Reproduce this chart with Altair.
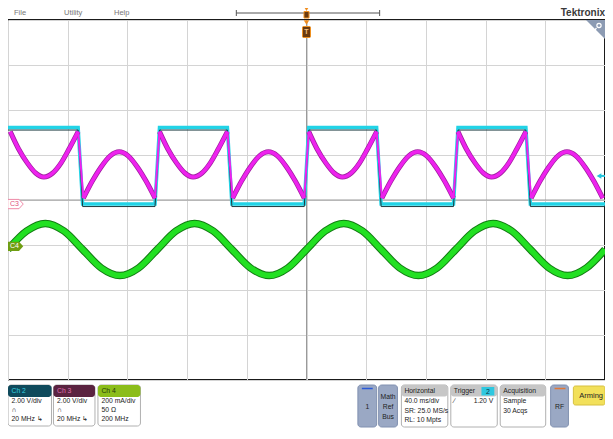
import altair as alt
import pandas as pd

# ---------------- data (time in ms, amplitude in screen divisions) ----------------
cyan_t = [-200, -153, -150, -101.5, -98.5, -53, -50, -1.5, 1.5, 47, 50, 98.5, 101.5, 147, 150, 200]
cyan_v = [1.61, 1.61, -0.09, -0.09, 1.61, 1.61, -0.09, -0.09, 1.61, 1.61, -0.09, -0.09, 1.61, 1.61, -0.09, -0.09]

mag_t = [-198.5, -193, -187, -181.5, -176, -170, -164.5, -159, -153,
         -149.5, -143.5, -137.5, -131.5, -125.5, -119.5, -113.5, -107.5, -101.5,
         -98.5, -93, -87, -81.5, -76, -70, -64.5, -59, -53,
         -49.5, -43.5, -37.5, -31.5, -25.5, -19.5, -13.5, -7.5, -1.5,
         1.5, 7, 13, 18.5, 24, 30, 35.5, 41, 47,
         50.5, 56.5, 62.5, 68.5, 74.5, 80.5, 86.5, 92.5, 98.5,
         101.5, 107, 113, 118.5, 124, 130, 135.5, 141, 147,
         150.5, 156.5, 162.5, 168.5, 174.5, 180.5, 186.5, 192.5, 198.5]
mag_v = [1.52, 1.14, 0.82, 0.60, 0.51, 0.60, 0.82, 1.14, 1.52,
         0.04, 0.42, 0.74, 0.98, 1.07, 0.98, 0.74, 0.42, 0.04,
         1.52, 1.14, 0.82, 0.60, 0.51, 0.60, 0.82, 1.14, 1.52,
         0.04, 0.42, 0.74, 0.98, 1.07, 0.98, 0.74, 0.42, 0.04,
         1.52, 1.14, 0.82, 0.60, 0.51, 0.60, 0.82, 1.14, 1.52,
         0.04, 0.42, 0.74, 0.98, 1.07, 0.98, 0.74, 0.42, 0.04,
         1.52, 1.14, 0.82, 0.60, 0.51, 0.60, 0.82, 1.14, 1.52,
         0.04, 0.42, 0.74, 0.98, 1.07, 0.98, 0.74, 0.42, 0.04]
MAG_SEG_LEN = 9  # samples per half-cycle

green_t = [-200, -187.5, -175, -162.5, -150, -137.5, -125, -112.5, -100, -87.5, -75, -62.5,
           -50, -37.5, -25, -12.5, 0, 12.5, 25, 37.5, 50, 62.5, 75, 87.5, 100, 112.5,
           125, 137.5, 150, 162.5, 175, 187.5, 200]
green_v = [-1.10, -0.69, -0.52, -0.69, -1.10, -1.51, -1.68, -1.51, -1.10, -0.69, -0.52, -0.69,
           -1.10, -1.51, -1.68, -1.51, -1.10, -0.69, -0.52, -0.69, -1.10, -1.51, -1.68, -1.51,
           -1.10, -0.69, -0.52, -0.69, -1.10, -1.51, -1.68, -1.51, -1.10]

ch3_offset = [-0.09]      # C3 ground marker (div)
ch4_offset = [-1.03]      # C4 ground marker (div)
trig_level = [0.535]      # trigger level marker on Ch2 (div)
grid_t = list(range(-200, 201, 40))
grid_v = list(range(-4, 5))

# ---------------- layout helpers (chrome only) ----------------
W, H = 597, 360
FONT = "Liberation Sans Narrow, Liberation Sans, Arial"
FS = 6.8


def fx(X):
    return (X - 5) * W / 604


def fp(Y):
    return Y - 28


one = pd.DataFrame({"k": [0]})


def box(x1, x2, y1, y2, fill, stroke=None, sw=1, r=0):
    kw = dict(fill=fill, cornerRadius=r)
    if stroke:
        kw.update(stroke=stroke, strokeWidth=sw)
    return alt.Chart(one).mark_rect(**kw).encode(
        x=alt.value(x1), x2=alt.value(x2), y=alt.value(y1), y2=alt.value(y2))


def hline(x1, x2, y, color, sw=1):
    return alt.Chart(one).mark_rule(color=color, strokeWidth=sw).encode(
        x=alt.value(x1), x2=alt.value(x2), y=alt.value(y))


def vline(x, y1, y2, color, sw=1):
    return alt.Chart(one).mark_rule(color=color, strokeWidth=sw).encode(
        x=alt.value(x), y=alt.value(y1), y2=alt.value(y2))


def txt(x, y, s, size=FS, color="#222", align="left", weight="normal"):
    return alt.Chart(one).mark_text(text=s, fontSize=size, color=color, align=align,
                                    baseline="middle", fontWeight=weight, font=FONT).encode(
        x=alt.value(x), y=alt.value(y))


def sym(x, y, shape, size, fill, stroke=None, sw=1):
    kw = dict(shape=shape, size=size, filled=True, fill=fill, opacity=1)
    if stroke:
        kw.update(stroke=stroke, strokeWidth=sw)
    return alt.Chart(one).mark_point(**kw).encode(x=alt.value(x), y=alt.value(y))


# ---------------- scales ----------------
xs = alt.Scale(domain=[-200, 200], nice=False, zero=False)
ys = alt.Scale(domain=[-4, 4], nice=False, zero=False)
XE = alt.X("t:Q", scale=xs, axis=alt.Axis(values=grid_t, grid=True, labels=False, ticks=False,
                                           domain=False, title=None))
YE = alt.Y("v:Q", scale=ys, axis=alt.Axis(values=grid_v, grid=True, labels=False, ticks=False,
                                           domain=False, title=None))

cyan = pd.DataFrame({"t": cyan_t, "v": cyan_v})
mag = pd.DataFrame({"t": mag_t, "v": mag_v})
mag["seg"] = [i // MAG_SEG_LEN for i in range(len(mag))]
# transition edges: last sample of one half-cycle to first sample of the next
edge_rows = []
nseg = mag["seg"].max() + 1
for s in range(nseg - 1):
    a = mag[mag.seg == s].iloc[-1]
    b = mag[mag.seg == s + 1].iloc[0]
    edge_rows += [{"t": a.t, "v": a.v, "e": s}, {"t": b.t, "v": b.v, "e": s}]
edges = pd.DataFrame(edge_rows)
grn = pd.DataFrame({"t": green_t, "v": green_v})

layers = []
# centre cross-hair
layers.append(alt.Chart(pd.DataFrame({"t": [0]})).mark_rule(color="#9a9a9a").encode(x=XE))
layers.append(alt.Chart(pd.DataFrame({"v": [0]})).mark_rule(color="#9a9a9a").encode(y=YE))

# traces
layers.append(alt.Chart(cyan).mark_line(color="#22d3e6", strokeWidth=3.5).encode(x=XE, y=YE, order="t"))
layers.append(alt.Chart(cyan).mark_line(color="#1d3b40", strokeWidth=1, yOffset=2.5).encode(x=XE, y=YE))
layers.append(alt.Chart(mag).mark_line(color="#a020a0", strokeWidth=5, interpolate="monotone").encode(
    x=XE, y=YE, detail="seg:N"))
layers.append(alt.Chart(edges).mark_line(color="#ee22ee", strokeWidth=2).encode(x=XE, y=YE, detail="e:N"))
layers.append(alt.Chart(mag).mark_line(color="#ee22ee", strokeWidth=3.5, interpolate="monotone").encode(
    x=XE, y=YE, detail="seg:N"))
layers.append(alt.Chart(grn).mark_line(color="#127a12", strokeWidth=7.5, interpolate="monotone").encode(x=XE, y=YE))
layers.append(alt.Chart(grn).mark_line(color="#22e022", strokeWidth=5.5, interpolate="monotone").encode(x=XE, y=YE))

# channel markers
TAG = "M -1 -0.6 L 0.45 -0.6 L 1 0 L 0.45 0.6 L -1 0.6 Z"
c3 = pd.DataFrame({"v": ch3_offset})
c4 = pd.DataFrame({"v": ch4_offset})
tl = pd.DataFrame({"v": trig_level})
layers.append(alt.Chart(c3).mark_point(shape=TAG, size=240, filled=True, fill="white", stroke="#f08aa8",
                                       strokeWidth=1, opacity=1).encode(x=alt.value(7.5), y=YE))
layers.append(alt.Chart(c3).mark_text(text="C3", fontSize=7, color="#e0507e", font=FONT).encode(
    x=alt.value(6.5), y=YE))
layers.append(alt.Chart(c4).mark_point(shape=TAG, size=240, filled=True, fill="#6f9e12",
                                       opacity=1).encode(x=alt.value(7.5), y=YE))
layers.append(alt.Chart(c4).mark_text(text="C4", fontSize=7, color="white", font=FONT).encode(
    x=alt.value(6.5), y=YE))
layers.append(alt.Chart(tl).mark_point(shape="triangle-left", size=30, filled=True, fill="#22c4dc",
                                       opacity=1).encode(x=alt.value(591), y=YE))
layers.append(alt.Chart(tl).mark_rule(color="#22c4dc", strokeWidth=2).encode(
    x=alt.value(592), x2=alt.value(597), y=YE))

# trigger position marker at top of graticule
layers.append(sym(W / 2, 2.5, "triangle-down", 30, "#f08c1e"))
layers.append(box(W / 2 - 4, W / 2 + 4, 6.5, 17.5, "#6b3a0e", "#f0901e", 1, 1))
layers.append(txt(W / 2, 12, "T", 7, "#f5c080", "center", "bold"))

# zoom icon (top right)
layers.append(sym(W - 9.5, 9.5, "M -1 -1 L 1 -1 L 1 1 Z", 361, "#8c9bb3"))
layers.append(sym(W - 6, 5.5, "circle", 18, "#8c9bb3", "white", 1.2))
layers.append(alt.Chart(one).mark_rule(color="white", strokeWidth=1.2).encode(
    x=alt.value(W - 8.5), x2=alt.value(W - 11), y=alt.value(8), y2=alt.value(11)))

# ---------------- top menu bar ----------------
layers.append(txt(6, -7, "File", 7.5, "#777"))
layers.append(txt(56, -7, "Utility", 7.5, "#777"))
layers.append(txt(106, -7, "Help", 7.5, "#777"))
layers.append(hline(fx(236), fx(381), -7, "#555"))
layers.append(vline(fx(236), -10, -4, "#555"))
layers.append(vline(fx(381), -10, -4, "#555"))
layers.append(sym(W / 2, -10.5, "triangle-down", 14, "#f08c1e"))
layers.append(box(W / 2 - 2.5, W / 2 + 2.5, -8.5, -2, "#6b3a0e", "#f0901e", 1))
layers.append(txt(W, -7, "Tektronix", 10, "#3a3a3a", "right", "bold"))


# ---------------- bottom status panel ----------------
def chan_badge(X1, X2, title, head_fill, head_color, rows):
    out = [box(fx(X1), fx(X2), fp(393), fp(434), "white", "#b0b0b0", 1, 3),
           box(fx(X1), fx(X2), fp(393), fp(405), head_fill, None, 1, 3),
           txt(fx(X1) + 3.5, fp(399), title, FS, head_color)]
    for yy, s in zip([409, 418, 427], rows):
        out.append(txt(fx(X1) + 3.5, fp(yy), s))
    return out


layers += chan_badge(5, 49, "Ch 2", "#0f4a5c", "#33d0e0", ["2.00 V/div", "\u2229", "20 MHz \u21b3"])
layers += chan_badge(51, 93, "Ch 3", "#5a2340", "#e070b0", ["2.00 V/div", "\u2229", "20 MHz \u21b3"])
layers += chan_badge(96, 139, "Ch 4", "#8bbd1a", "#24380a", ["200 mA/div", "50 \u03a9", "200 MHz"])

# "1" and Math/Ref/Bus and RF buttons
layers.append(box(fx(359), fx(378), fp(393), fp(435), "#9aa8c4", "#8090b0", 1, 3))
layers.append(hline(fx(363), fx(374), fp(396.5), "#2a5ad8", 1.5))
layers.append(txt((fx(359) + fx(378)) / 2, fp(415), "1", FS, "#222", "center"))
layers.append(box(fx(380), fx(399), fp(393), fp(435), "#9aa8c4", "#8090b0", 1, 3))
for yy, s in zip([405, 415, 425], ["Math", "Ref", "Bus"]):
    layers.append(txt((fx(380) + fx(399)) / 2, fp(yy), s, FS, "#222", "center"))
layers.append(box(fx(554), fx(572), fp(393), fp(435), "#9aa8c4", "#8090b0", 1, 3))
layers.append(hline(fx(558), fx(569), fp(396.5), "#e07838", 1.5))
layers.append(txt((fx(554) + fx(572)) / 2, fp(415), "RF", FS, "#222", "center"))


def info_box(X1, X2, title, rows):
    out = [box(fx(X1), fx(X2), fp(393), fp(435), "white", "#b0b0b0", 1, 3),
           box(fx(X1), fx(X2), fp(393), fp(404.5), "#c6c6c6", None, 1, 3),
           txt(fx(X1) + 3, fp(399), title, FS, "#222")]
    for yy, s in zip([409, 418.5, 428], rows):
        out.append(txt(fx(X1) + 3, fp(yy), s))
    return out


layers += info_box(403, 450, "Horizontal", ["40.0 ms/div", "SR: 25.0 MS/s", "RL: 10 Mpts"])
layers += info_box(453, 500, "Trigger", ["\u2215"])
layers.append(box(fx(484), fx(497), fp(395), fp(403.5), "#2ec8e0"))
layers.append(txt((fx(484) + fx(497)) / 2, fp(399.5), "2", 7, "#0f3040", "center"))
layers.append(txt(fx(496), fp(409), "1.20 V", FS, "#222", "right"))
layers += info_box(503, 549, "Acquisition", ["Sample", "30 Acqs"])

layers.append(box(fx(577), W, fp(394), fp(413), "#f2e05a", "#d6c040", 1, 2))
layers.append(txt(fx(595), fp(403.5), "Arming", 7.5, "#222", "center"))

chart = alt.layer(*layers).properties(
    width=W, height=H,
    padding={"left": 0, "right": 0, "top": 12, "bottom": 51},
    autosize=alt.AutoSizeParams(type="none"),
    background="white",
).configure_axis(gridColor="#d4d4d4", gridWidth=1).configure_view(stroke="#1a1a1a", strokeWidth=2)

chart.save("out.html", embed_options={"renderer": "svg", "actions": False})
